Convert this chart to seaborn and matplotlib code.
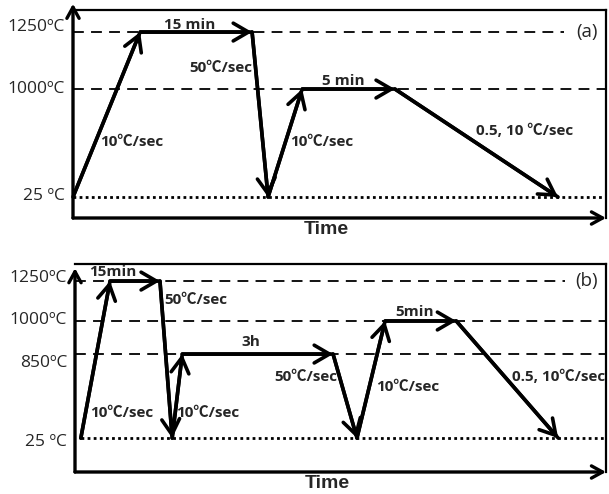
import matplotlib
matplotlib.use("Agg")
import matplotlib.pyplot as plt
import seaborn as sns

# (a) heat treatment schedule: time in schematic units, temperature in C
time_a = [0, 12.6, 33.6, 36.6, 43.0, 60.4, 91.0]
temp_a = [25, 1250, 1250, 25, 1000, 1000, 25]
levels_a = [1250, 1000, 25]
level_text_a = ['1250ºC', '1000ºC', '25 ºC']
seg_text_a = ['10℃/sec', '15 min', '50℃/sec', '10℃/sec', '5 min', '0.5, 10 ℃/sec']

# (b)
time_b = [1.1, 6.6, 16.0, 18.3, 20.2, 48.6, 53.1, 58.4, 71.8, 91.0]
temp_b = [25, 1250, 1250, 25, 850, 850, 25, 1000, 1000, 25]
levels_b = [1250, 1000, 850, 25]
level_text_b = ['1250ºC', '1000ºC', '850ºC', '25 ºC']
seg_text_b = ['10℃/sec', '15min', '50℃/sec', '10℃/sec', '3h', '50℃/sec',
              '10℃/sec', '5min', '0.5, 10℃/sec']

# schematic (non-linear) height of each temperature level, 0-100
height_a = {25: 10.1, 1000: 62.0, 1250: 89.4}
height_b = {25: 16.3, 850: 56.7, 1000: 72.6, 1250: 91.8}

# where the labels go (layout only)
seg_pos_a = [(11.1, 36.5), (21.8, 92.8), (27.8, 72.1), (46.7, 36.5), (50.8, 65.9), (84.8, 41.8)]
seg_pos_b = [(8.7, 28.4), (7.2, 96.2), (22.8, 82.7), (24.9, 28.4), (33.1, 62.5),
             (43.5, 45.7), (62.7, 40.9), (64.0, 76.9), (91.0, 45.7)]
tick_y_a = [91.8, 61.8, 10.6]
tick_y_b = [93.3, 73.1, 52.4, 14.4]

sns.set_style('white')
plt.rcParams['font.family'] = ['Open Sans', 'Noto Sans CJK KR', 'DejaVu Sans']

fig = plt.figure(figsize=(6.09, 4.94), dpi=100)
ax_a = fig.add_axes([73 / 609, 1 - 218 / 494, 533 / 609, 208 / 494])
ax_b = fig.add_axes([75 / 609, 1 - 472 / 494, 531 / 609, 208 / 494])


def draw_panel(ax, times, temps, levels, level_text, seg_text, heights,
               seg_pos, tick_y, tag, top_arrow, start_x):
    ax.set_xlim(0, 100)
    ax.set_ylim(0, 100)
    ax.set_xticks([])
    ax.set_yticks([])
    for s in ['top', 'right']:
        ax.spines[s].set_linewidth(1.6)
        ax.spines[s].set_color('black')
    ax.spines['left'].set_visible(False)
    ax.spines['bottom'].set_visible(False)

    # axes arrows
    for end in [(0, top_arrow), (1.0, 0)]:
        ax.annotate('', xy=end, xytext=(0, 0), xycoords='axes fraction',
                    arrowprops=dict(arrowstyle='->,head_length=0.4,head_width=0.22',
                                    lw=2.4, color='black', mutation_scale=20,
                                    shrinkA=0, shrinkB=0), annotation_clip=False)

    # reference levels
    for lev in levels:
        h = heights[lev]
        if lev == 25:
            ax.plot([start_x, 100], [h, h], color='black', lw=2.0,
                    ls=(0, (1, 1.2)), zorder=1)
        elif lev == 1250:
            ax.plot([0, 92.2], [h, h], color='black', lw=1.3,
                    ls=(0, (6, 4)), zorder=1)
        else:
            ax.plot([0, 100], [h, h], color='black', lw=1.3,
                    ls=(0, (6, 4)), zorder=1)

    for lab, y in zip(level_text, tick_y):
        ax.text(-0.015, y / 100, lab, transform=ax.transAxes, ha='right',
                va='center', fontsize=12.5)

    ys = [heights[t] for t in temps]
    sns.lineplot(x=times, y=ys, sort=False, estimator=None, color='black',
                 lw=2.6, ax=ax, zorder=3)
    for i in range(len(times) - 1):
        ax.annotate('', xy=(times[i + 1], ys[i + 1]), xytext=(times[i], ys[i]),
                    arrowprops=dict(arrowstyle='->,head_length=0.55,head_width=0.32',
                                    lw=2.6, color='black', mutation_scale=20,
                                    shrinkA=0, shrinkB=0), zorder=4)

    for txt, (x, y) in zip(seg_text, seg_pos):
        ax.text(x, y, txt, ha='center', va='center', fontsize=11,
                fontweight='bold')

    ax.text(96.4, heights[1250], tag, ha='center', va='center', fontsize=13.5)
    ax.text(47.6, -5.4, 'Time', ha='center', va='center', fontsize=14,
            fontweight='bold', family=['Liberation Sans', 'DejaVu Sans'])


draw_panel(ax_a, time_a, temp_a, levels_a, level_text_a, seg_text_a, height_a,
           seg_pos_a, tick_y_a, '(a)', 1.03, 0)
draw_panel(ax_b, time_b, temp_b, levels_b, level_text_b, seg_text_b, height_b,
           seg_pos_b, tick_y_b, '(b)', 0.98, 1.1)

fig.savefig('out.png', dpi=100)
